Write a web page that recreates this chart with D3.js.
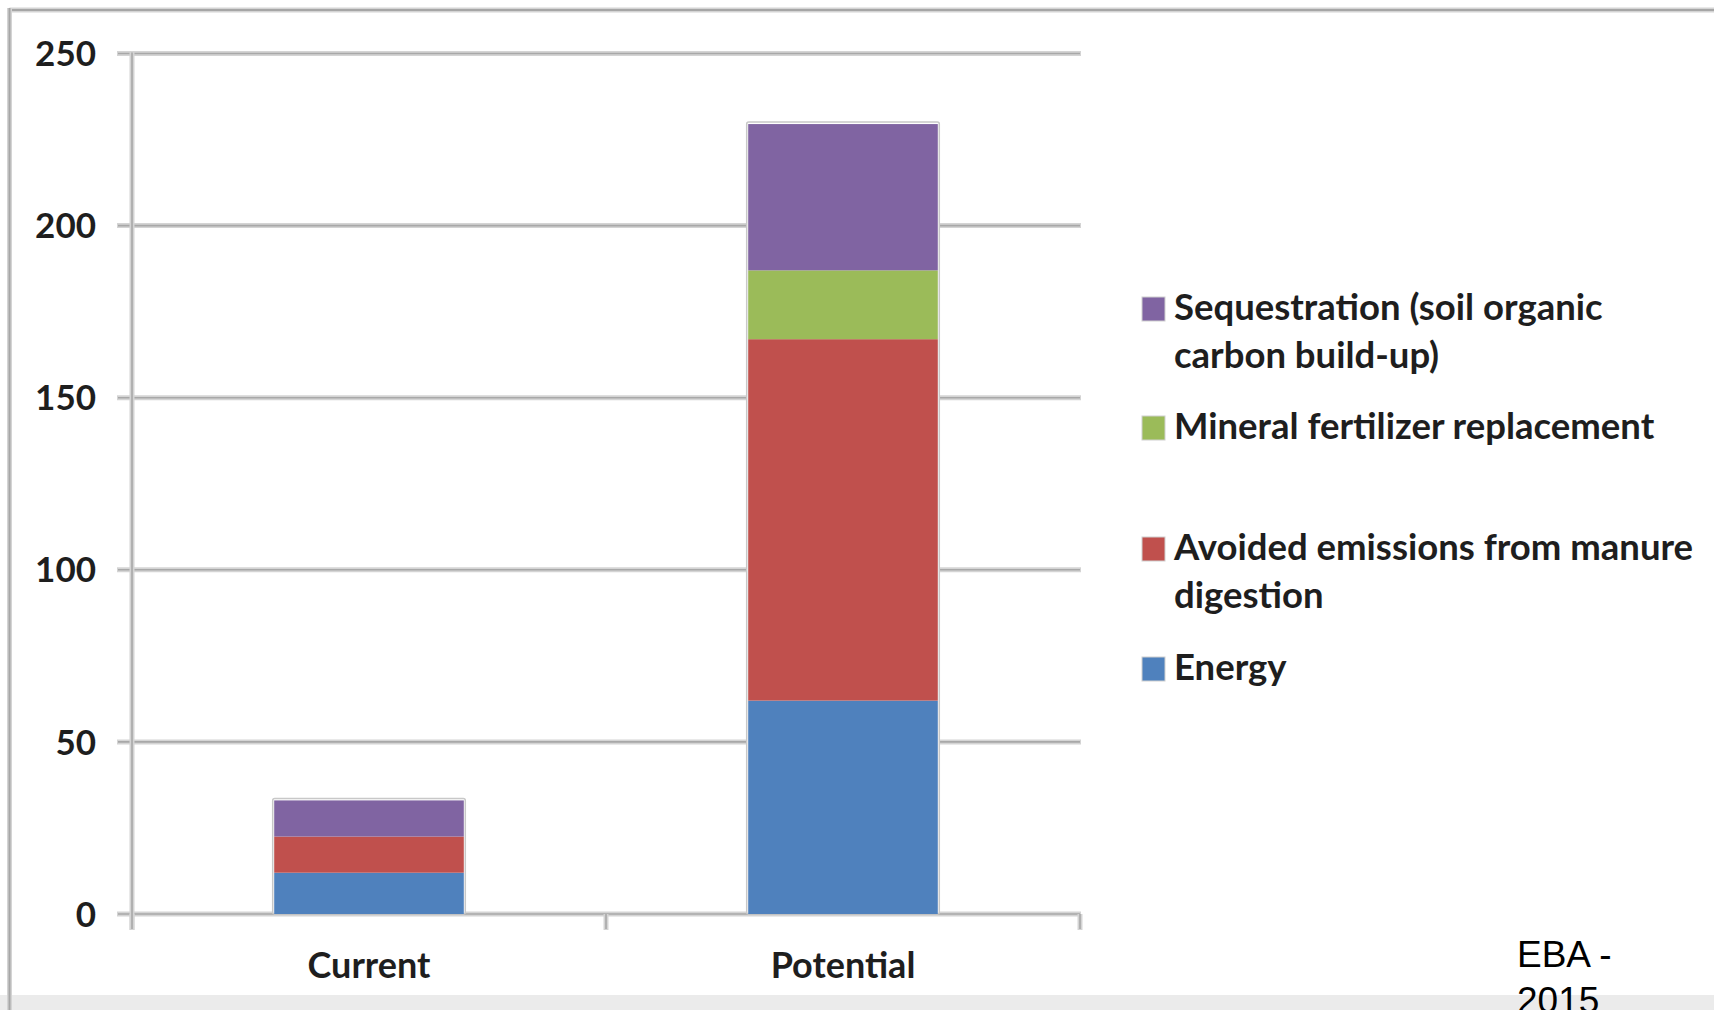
<!DOCTYPE html>
<html>
<head>
<meta charset="utf-8">
<script src="https://cdn.jsdelivr.net/npm/d3@7"></script>
<style>
  html, body { margin: 0; padding: 0; background: #fff; overflow: hidden; }
  svg { display: block; }
</style>
</head>
<body>
<svg id="chart" width="1714" height="1010"></svg>
<script>
// ---- data ----
const categories = ["Current", "Potential"];
const seriesNames = [
  "Energy",
  "Avoided emissions from manure digestion",
  "Mineral fertilizer replacement",
  "Sequestration (soil organic carbon build-up)"
];
const energy = [12, 62];
const avoidedEmissions = [10.5, 105];
const mineralFertilizer = [0, 20];
const sequestration = [10.5, 42.5];
const yTicks = [0, 50, 100, 150, 200, 250];
const colors = ["#4f81bd", "#c0504d", "#9bbb59", "#8064a2"];
const legendLines = [
  ["Sequestration (soil organic", "carbon build-up)"],
  ["Mineral fertilizer replacement"],
  ["Avoided emissions from manure", "digestion"],
  ["Energy"]
];
const footnote = ["EBA -", "2015"];

// ---- build table ----
const seriesValues = [energy, avoidedEmissions, mineralFertilizer, sequestration];
const table = categories.map((c, i) => {
  const row = { category: c };
  seriesNames.forEach((s, j) => row[s] = seriesValues[j][i]);
  return row;
});
const stacked = d3.stack().keys(seriesNames)(table);

const svg = d3.select("#chart");
const font = "Lato, 'Open Sans', sans-serif";
const textColor = "#1e1e1e";

// background bottom band
svg.append("rect").attr("x", 0).attr("y", 995).attr("width", 1714).attr("height", 15).attr("fill", "#ebebeb");

// outer frame (double gray lines)
function doubleLine(x1, y1, x2, y2) {
  svg.append("line").attr("x1", x1).attr("y1", y1).attr("x2", x2).attr("y2", y2)
    .attr("stroke", "#d4d4d4").attr("stroke-width", 5);
  svg.append("line").attr("x1", x1).attr("y1", y1).attr("x2", x2).attr("y2", y2)
    .attr("stroke", "#a6a6a6").attr("stroke-width", 2);
}
doubleLine(9.5, 10, 1714, 10);
doubleLine(9.5, 8, 9.5, 1010);

// scales
const x = d3.scaleBand().domain(categories).range([132, 1080]).paddingInner(0.6).paddingOuter(0.3);
const y = d3.scaleLinear().domain([0, 250]).range([914, 53.5]);

// gridlines (with small tick stubs left of the axis)
const gridG = svg.append("g");
yTicks.forEach(t => {
  const yy = y(t);
  gridG.append("line").attr("x1", 117).attr("x2", 1081).attr("y1", yy).attr("y2", yy)
    .attr("stroke", "#d4d4d4").attr("stroke-width", 5);
  gridG.append("line").attr("x1", 118).attr("x2", 1080).attr("y1", yy).attr("y2", yy)
    .attr("stroke", "#a8a8a8").attr("stroke-width", 1.6);
});

// y axis vertical line
gridG.append("line").attr("x1", 132).attr("x2", 132).attr("y1", y(250) - 2).attr("y2", 930)
  .attr("stroke", "#d4d4d4").attr("stroke-width", 5);
gridG.append("line").attr("x1", 132).attr("x2", 132).attr("y1", y(250) - 1).attr("y2", 929)
  .attr("stroke", "#a8a8a8").attr("stroke-width", 1.6);

// x axis tick marks at band boundaries
const boundaryXs = [x.range()[0], (x(categories[0]) + x.bandwidth() + x(categories[1])) / 2, x.range()[1]];
boundaryXs.forEach(bx => {
  gridG.append("line").attr("x1", bx).attr("x2", bx).attr("y1", y(0)).attr("y2", 930)
    .attr("stroke", "#d4d4d4").attr("stroke-width", 5);
  gridG.append("line").attr("x1", bx).attr("x2", bx).attr("y1", y(0)).attr("y2", 929)
    .attr("stroke", "#a8a8a8").attr("stroke-width", 1.6);
});

// y tick labels
svg.append("g").selectAll("text").data(yTicks).join("text")
  .attr("x", 96).attr("y", d => y(d)).attr("dy", "0.36em")
  .attr("text-anchor", "end")
  .attr("font-family", font).attr("font-weight", "bold").attr("font-size", 35)
  .attr("fill", textColor).text(d => d);

// bar outlines (light border)
svg.append("g").selectAll("rect").data(table).join("rect")
  .attr("x", d => x(d.category) - 1.5)
  .attr("y", d => y(d3.sum(seriesNames, s => d[s])) - 2)
  .attr("width", x.bandwidth() + 3)
  .attr("height", d => y(0) - y(d3.sum(seriesNames, s => d[s])) + 2)
  .attr("fill", "#fff").attr("stroke", "#c8c8c8").attr("stroke-width", 1.5).attr("rx", 2);

// bars
const barsG = svg.append("g");
stacked.forEach((layer, i) => {
  barsG.append("g").attr("fill", colors[i]).selectAll("rect").data(layer).join("rect")
    .attr("x", d => x(d.data.category))
    .attr("y", d => y(d[1]))
    .attr("width", x.bandwidth())
    .attr("height", d => Math.max(0, y(d[0]) - y(d[1])));
});

// x labels
svg.append("g").selectAll("text").data(categories).join("text")
  .attr("x", d => x(d) + x.bandwidth() / 2).attr("y", 978)
  .attr("text-anchor", "middle")
  .attr("font-family", font).attr("font-weight", "bold").attr("font-size", 36)
  .attr("fill", textColor).text(d => d);

// legend
const legendColors = [colors[3], colors[2], colors[1], colors[0]];
const legendSquareY = [297, 416, 537, 657];
const legendG = svg.append("g");
legendLines.forEach((lines, i) => {
  legendG.append("rect").attr("x", 1142).attr("y", legendSquareY[i]).attr("width", 23).attr("height", 24)
    .attr("fill", legendColors[i]).attr("stroke", "#d0d0d0").attr("stroke-width", 1);
  const t = legendG.append("text")
    .attr("font-family", font).attr("font-weight", "bold").attr("font-size", 36.5)
    .attr("fill", textColor);
  lines.forEach((ln, k) => {
    t.append("tspan").attr("x", 1174).attr("y", legendSquareY[i] + 23 + k * 48).text(ln);
  });
});

// footnote
const fn = svg.append("text").attr("font-family", "'Liberation Sans', Arial, sans-serif")
  .attr("font-size", 37).attr("fill", "#000");
footnote.forEach((ln, k) => fn.append("tspan").attr("x", 1517).attr("y", 967 + k * 46).text(ln));
</script>
</body>
</html>
